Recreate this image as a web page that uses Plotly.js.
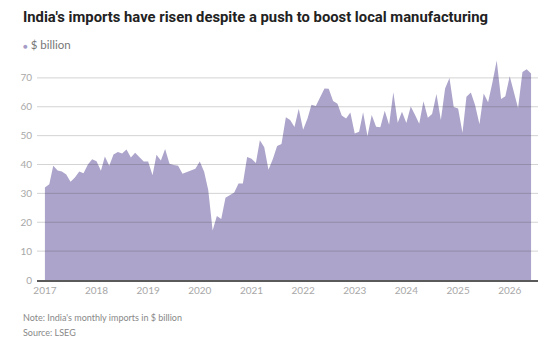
<!DOCTYPE html>
<html>
<head>
<meta charset="utf-8">
<script src="https://cdn.plot.ly/plotly-3.0.1.min.js"></script>
<style>
html,body{margin:0;padding:0;background:#fff;}
#chart{width:554px;height:342px;}
</style>
</head>
<body>
<div id="chart"></div>
<script>
// Monthly imports, Jan 2017 .. Jun 2026 ($ billion)
const startYear = 2017;
const imports = [
  // 2017
  32.0, 33.2, 39.6, 37.9, 37.6, 36.5, 34.0, 35.5, 37.6, 37.0, 40.0, 41.8,
  // 2018
  41.1, 37.8, 42.8, 39.6, 43.5, 44.3, 43.8, 45.2, 42.4, 44.1, 42.5, 41.0,
  // 2019
  41.0, 36.3, 43.4, 41.4, 45.4, 40.3, 39.8, 39.6, 36.8, 37.4, 37.9, 38.5,
  // 2020
  41.0, 37.5, 31.2, 17.1, 22.2, 21.1, 28.5, 29.5, 30.3, 33.4, 33.4, 42.6,
  // 2021
  42.0, 40.5, 48.4, 46.0, 38.2, 41.9, 46.4, 47.1, 56.4, 55.4, 53.0, 59.3,
  // 2022
  52.0, 55.9, 60.7, 60.3, 63.2, 66.3, 66.2, 62.0, 61.0, 57.0, 55.9, 58.0,
  // 2023
  50.7, 51.3, 58.1, 49.9, 57.1, 53.1, 52.9, 58.6, 53.8, 65.0, 54.5, 58.3,
  // 2024
  54.4, 60.1, 57.3, 54.1, 61.9, 56.2, 57.5, 64.4, 55.4, 66.3, 70.0, 59.9,
  // 2025
  59.4, 51.0, 63.5, 64.9, 60.6, 53.9, 64.6, 61.6, 68.5, 76.0, 62.7, 63.6,
  // 2026
  70.6, 65.0, 59.6, 72.0, 73.0, 71.5
];
const yearTicks = ['2017','2018','2019','2020','2021','2022','2023','2024','2025','2026'];
const yTicks = [0, 10, 20, 30, 40, 50, 60, 70];

const months = imports.map((v, i) => {
  const y = startYear + Math.floor(i / 12);
  const m = (i % 12) + 1;
  return y + '-' + String(m).padStart(2, '0') + '-01';
});

const trace = {
  x: months,
  y: imports,
  type: 'scatter',
  mode: 'lines',
  line: {width: 0, color: '#aca4ca'},
  fill: 'tozeroy',
  fillcolor: '#aca4ca',
  hoverinfo: 'skip'
};

const gridShapes = yTicks.filter(v => v > 0).map(v => ({
  type: 'line', xref: 'paper', x0: 0, x1: 1, yref: 'y', y0: v, y1: v,
  line: {color: 'rgba(60,60,60,0.22)', width: 1}, layer: 'above'
}));

const PW = 501, PH = 230.6, LEFT = 37, TOP = 49.4;
const px = x => (x - LEFT) / PW;
const py = y => 1 - (y - TOP) / PH;

const layout = {
  width: 554, height: 342,
  margin: {l: 37, r: 16, t: 49.4, b: 62, pad: 0},
  paper_bgcolor: '#fff', plot_bgcolor: '#fff',
  showlegend: false,
  xaxis: {
    type: 'date',
    range: ['2016-11-06', '2026-07-20'],
    tickvals: yearTicks.map(y => y + '-01-01'),
    ticktext: yearTicks,
    showgrid: false, zeroline: false,
    showline: true, linecolor: '#5a5a5a', linewidth: 1.5,
    ticks: '',
    tickfont: {family: 'Lato, "Open Sans", sans-serif', size: 10, color: '#a8a8a8'},
    fixedrange: true
  },
  yaxis: {
    range: [0, 80],
    tickvals: yTicks,
    showgrid: false, zeroline: false, showline: false,
    ticks: '',
    ticklabelstandoff: 4,
    tickfont: {family: 'Lato, "Open Sans", sans-serif', size: 10, color: '#a8a8a8'},
    fixedrange: true
  },
  shapes: gridShapes,
  annotations: [
    {xref: 'paper', yref: 'paper', x: px(21), y: py(17), xanchor: 'left', yanchor: 'middle',
     text: "<b>India's imports have risen despite a push to boost local manufacturing</b>",
     showarrow: false, font: {family: 'Roboto, "Open Sans", sans-serif', size: 14.8, color: '#222'}},
    {xref: 'paper', yref: 'paper', x: px(21), y: py(45), xanchor: 'left', yanchor: 'middle',
     text: '<span style="color:#a59cc6;font-size:8px">●</span> $ billion',
     showarrow: false, font: {family: 'Lato, "Open Sans", sans-serif', size: 11.5, color: '#777'}},
    {xref: 'paper', yref: 'paper', x: px(21), y: py(317), xanchor: 'left', yanchor: 'middle',
     text: "Note: India's monthly imports in $ billion",
     showarrow: false, font: {family: 'Lato, "Open Sans", sans-serif', size: 9, color: '#888'}},
    {xref: 'paper', yref: 'paper', x: px(21), y: py(332), xanchor: 'left', yanchor: 'middle',
     text: 'Source: LSEG',
     showarrow: false, font: {family: 'Lato, "Open Sans", sans-serif', size: 9, color: '#888'}}
  ]
};

Plotly.newPlot('chart', [trace], layout, {displayModeBar: false, staticPlot: true});
</script>
</body>
</html>
